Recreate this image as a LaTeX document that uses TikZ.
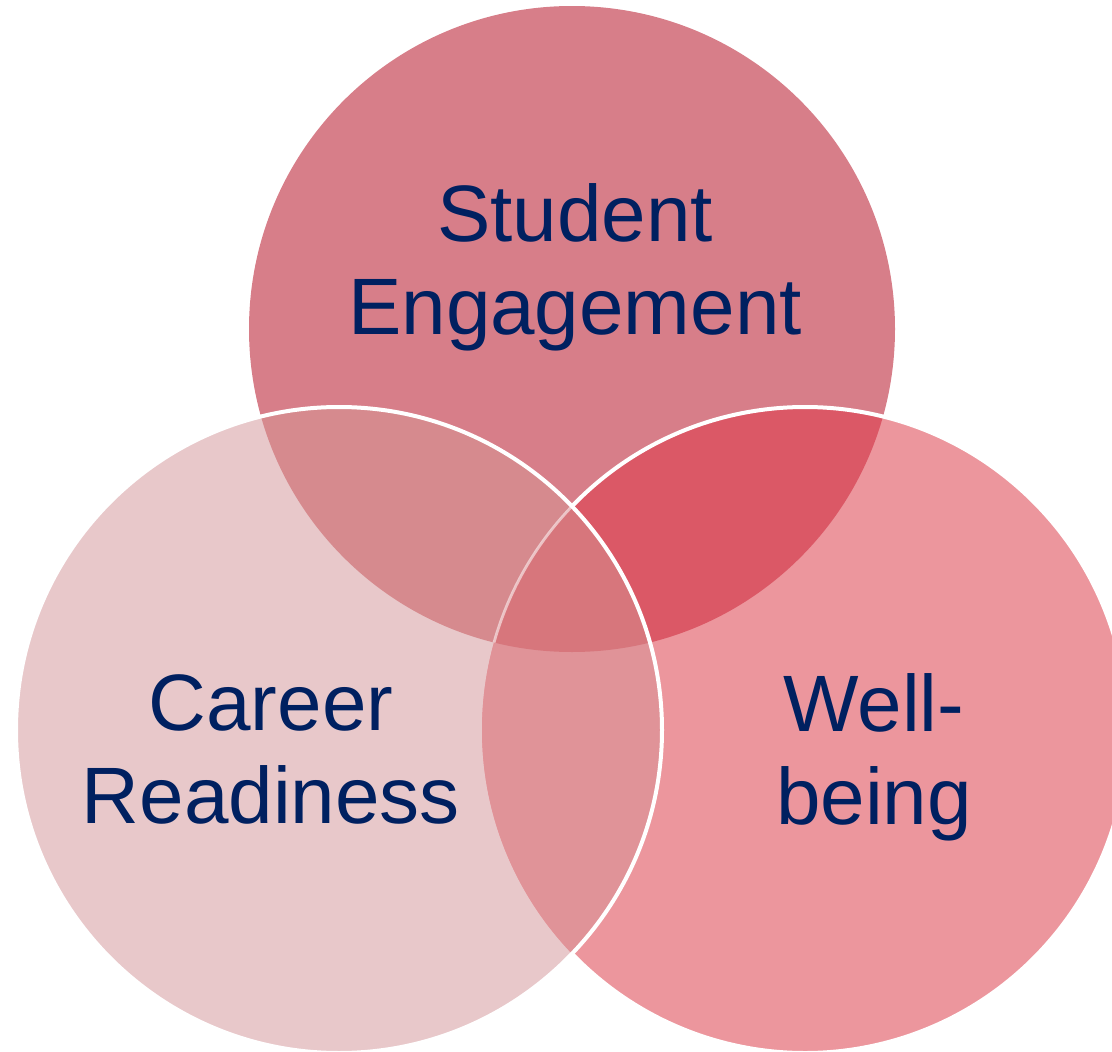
\documentclass[tikz,border=0pt]{standalone}
\usepackage{fontspec}
\setmainfont{Liberation Sans}
\definecolor{cT}{RGB}{215,126,137}
\definecolor{cL}{RGB}{232,200,202}
\definecolor{cR}{RGB}{236,150,157}
\definecolor{cTL}{RGB}{214,138,142}
\definecolor{cTR}{RGB}{219,88,102}
\definecolor{cLR}{RGB}{224,147,152}
\definecolor{cTLR}{RGB}{215,118,124}
\definecolor{navy}{RGB}{0,32,96}
\tikzset{
  venn/.style={circle, minimum size=646pt, inner sep=0pt, outer sep=0pt, draw=none},
  label/.style={text=navy, align=center, font=\fontsize{80}{93}\selectfont, inner sep=0pt},
  rim/.style={draw=white, line width=4pt},
  faintrim/.style={draw=white, draw opacity=0.55, line width=2.8pt}
}
\begin{document}
\begin{tikzpicture}[x=1pt, y=-1pt]
\useasboundingbox (0,0) rectangle (1112,1052);
\begin{scope}
\clip (0,0) rectangle (1112,1052);
% circles
\node[venn, fill=cT] (T) at (572,329) {};
\node[venn, fill=cL] (L) at (339,730) {};
\node[venn, fill=cR] (R) at (805,730) {};
% pairwise overlaps
\begin{scope}
  \clip (T.center) circle[radius=323];
  \fill[cTL] (L.center) circle[radius=323];
\end{scope}
\begin{scope}
  \clip (T.center) circle[radius=323];
  \fill[cTR] (R.center) circle[radius=323];
\end{scope}
\begin{scope}
  \clip (L.center) circle[radius=323];
  \fill[cLR] (R.center) circle[radius=323];
\end{scope}
\begin{scope}
  \clip (T.center) circle[radius=323];
  \clip (L.center) circle[radius=323];
  \fill[cTLR] (R.center) circle[radius=323];
\end{scope}
% white rims
\draw[rim] (R.center) ++(-136.0:323) arc[start angle=-136.0, end angle=136.0, radius=323];
\begin{scope}
  \clip (T.center) circle[radius=323];
  \draw[faintrim] (R.center) ++(136.0:323) arc[start angle=136.0, end angle=224.0, radius=323];
\end{scope}
\draw[rim] (L.center) circle[radius=323];
\end{scope}
% labels
\node[label] (tT) at (575,267) {Student\\Engagement};
\node[label] (tL) at (271,749) {Career\\Readiness};
\node[label] (tR) at (874,757) {Well-\\being};
\end{tikzpicture}
\end{document}
